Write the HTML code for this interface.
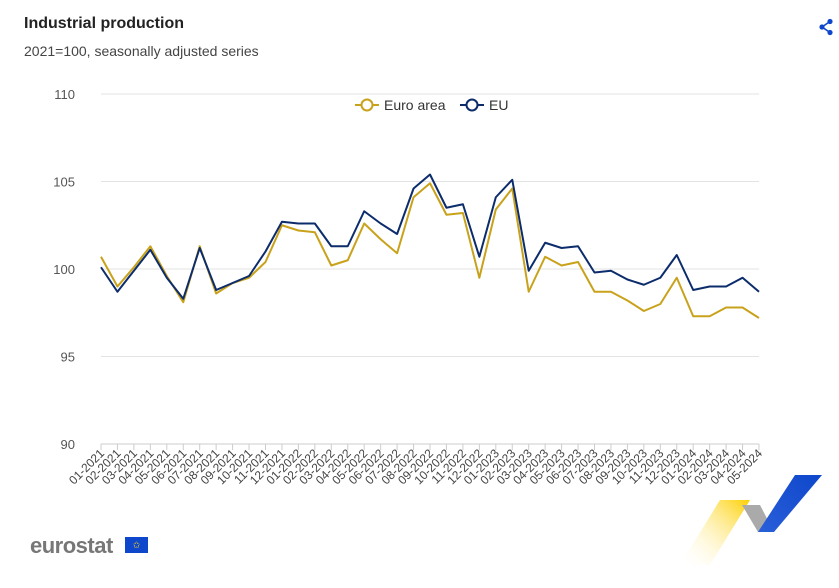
<!DOCTYPE html>
<html><head><meta charset="utf-8"><style>
body{margin:0;background:#fff;font-family:"Liberation Sans",sans-serif;}
#wrap{position:relative;width:839px;height:588px;overflow:hidden;}
.t{position:absolute;left:24px;top:15px;font-size:16px;font-weight:bold;color:#222;}
.s{position:absolute;left:24px;top:43px;font-size:14px;color:#444;}
</style></head><body>
<div id="wrap">
<div class="t">Industrial production</div>
<div class="s">2021=100, seasonally adjusted series</div>
<svg id="share" style="position:absolute;left:818px;top:18px" width="16" height="18" viewBox="0 0 16 18">
<circle cx="12" cy="3.5" r="2.6" fill="#0e47cb"/><circle cx="4" cy="9" r="2.6" fill="#0e47cb"/><circle cx="12" cy="14.5" r="2.6" fill="#0e47cb"/>
<path d="M12 3.5L4 9L12 14.5" stroke="#0e47cb" stroke-width="1.6" fill="none"/></svg>
<svg id="chart" width="839" height="588" style="position:absolute;left:0;top:0"></svg>
<div style="position:absolute;left:30px;top:533px;font-size:22px;font-weight:bold;color:#777;letter-spacing:-0.5px">eurostat</div>
<div style="position:absolute;left:125px;top:537px;width:23px;height:16px;background:#0e47cb;color:#ffd617;font-size:9px;text-align:center;line-height:16px">✩</div>
<svg style="position:absolute;left:670px;top:470px" width="169" height="118">
<defs><linearGradient id="gy" x1="1" y1="0" x2="0" y2="1"><stop offset="0" stop-color="#fdd000"/><stop offset="1" stop-color="#fff" stop-opacity="0"/></linearGradient>
<linearGradient id="gb" x1="1" y1="0" x2="0" y2="1"><stop offset="0" stop-color="#0e47cb"/><stop offset="1" stop-color="#2a5fd9"/></linearGradient></defs>
<polygon points="50,30 80,30 40,95 10,95" fill="url(#gy)"/>
<polygon points="72,35 90,35 104,62 88,62" fill="#aaa"/>
<polygon points="125,5 152,5 104,62 88,62" fill="url(#gb)"/>
</svg>
</div>
<script>
const categories=["01-2021","02-2021","03-2021","04-2021","05-2021","06-2021","07-2021","08-2021","09-2021","10-2021","11-2021","12-2021","01-2022","02-2022","03-2022","04-2022","05-2022","06-2022","07-2022","08-2022","09-2022","10-2022","11-2022","12-2022","01-2023","02-2023","03-2023","04-2023","05-2023","06-2023","07-2023","08-2023","09-2023","10-2023","11-2023","12-2023","01-2024","02-2024","03-2024","04-2024","05-2024"];
const euroArea=[100.7,99.0,100.1,101.3,99.6,98.1,101.3,98.6,99.2,99.5,100.4,102.5,102.2,102.1,100.2,100.5,102.6,101.7,100.9,104.1,104.9,103.1,103.2,99.5,103.4,104.6,98.7,100.7,100.2,100.4,98.7,98.7,98.2,97.6,98.0,99.5,97.3,97.3,97.8,97.8,97.2];
const eu=[100.1,98.7,99.9,101.1,99.5,98.3,101.2,98.8,99.2,99.6,101.0,102.7,102.6,102.6,101.3,101.3,103.3,102.6,102.0,104.6,105.4,103.5,103.7,100.7,104.1,105.1,99.9,101.5,101.2,101.3,99.8,99.9,99.4,99.1,99.5,100.8,98.8,99.0,99.0,99.5,98.7];
const yTicks=[90,95,100,105,110];
const NS="http://www.w3.org/2000/svg";
const svg=document.getElementById('chart');
const x0=101,x1=759,y0=444,y1=94,vMin=90,vMax=110;
const xs=i=>x0+(x1-x0)*i/(categories.length-1);
const ys=v=>y0-(v-vMin)/(vMax-vMin)*(y0-y1);
function mk(t,a){const e=document.createElementNS(NS,t);for(const k in a)e.setAttribute(k,a[k]);svg.appendChild(e);return e;}
yTicks.forEach(v=>{
 const l=mk('line',{x1:x0,x2:x1,y1:ys(v),y2:ys(v),stroke:v===90?'#ccc':'#e3e3e3','stroke-width':1});
 
 
 const t=mk('text',{x:75,y:ys(v)+5,'text-anchor':'end','font-size':13,fill:'#555','font-family':'Liberation Sans, sans-serif'});
 t.textContent=v;
 
 
});
categories.forEach((c,i)=>{
 const tk=mk('line',{x1:xs(i),x2:xs(i),y1:y0,y2:y0+6,stroke:'#ccc'});
 
 
 const t=mk('text',{x:xs(i)+4,y:y0+10,'text-anchor':'end','font-size':12,fill:'#444','font-family':'Liberation Sans, sans-serif',transform:`rotate(-45 ${xs(i)+4} ${y0+10})`});
 t.textContent=c;
 
 
});
function line(vals,color,name){
 const p=mk('polyline',{points:vals.map((v,i)=>xs(i)+','+ys(v)).join(' '),fill:'none',stroke:color,'stroke-width':2,'stroke-linejoin':'round'});
 
 
}
line(euroArea,'#c9a21b','euro-area-line');
line(eu,'#0c2c6b','eu-line');
function legend(x,color,label,name){
 const g=document.createElementNS(NS,'g');svg.appendChild(g);
 
 
 const a=document.createElementNS(NS,'line');a.setAttribute('x1',x);a.setAttribute('x2',x+24);a.setAttribute('y1',105);a.setAttribute('y2',105);a.setAttribute('stroke',color);a.setAttribute('stroke-width',2);g.appendChild(a);
 const c=document.createElementNS(NS,'circle');c.setAttribute('cx',x+12);c.setAttribute('cy',105);c.setAttribute('r',5.5);c.setAttribute('fill','#fff');c.setAttribute('stroke',color);c.setAttribute('stroke-width',2);g.appendChild(c);
 const t=document.createElementNS(NS,'text');t.setAttribute('x',x+29);t.setAttribute('y',110);t.setAttribute('font-size',14);t.setAttribute('fill','#333');t.setAttribute('font-family','Liberation Sans, sans-serif');t.textContent=label;g.appendChild(t);
}
legend(355,'#c9a21b','Euro area','legend-euro-area');
legend(460,'#0c2c6b','EU','legend-eu');
</script>
</body></html>
